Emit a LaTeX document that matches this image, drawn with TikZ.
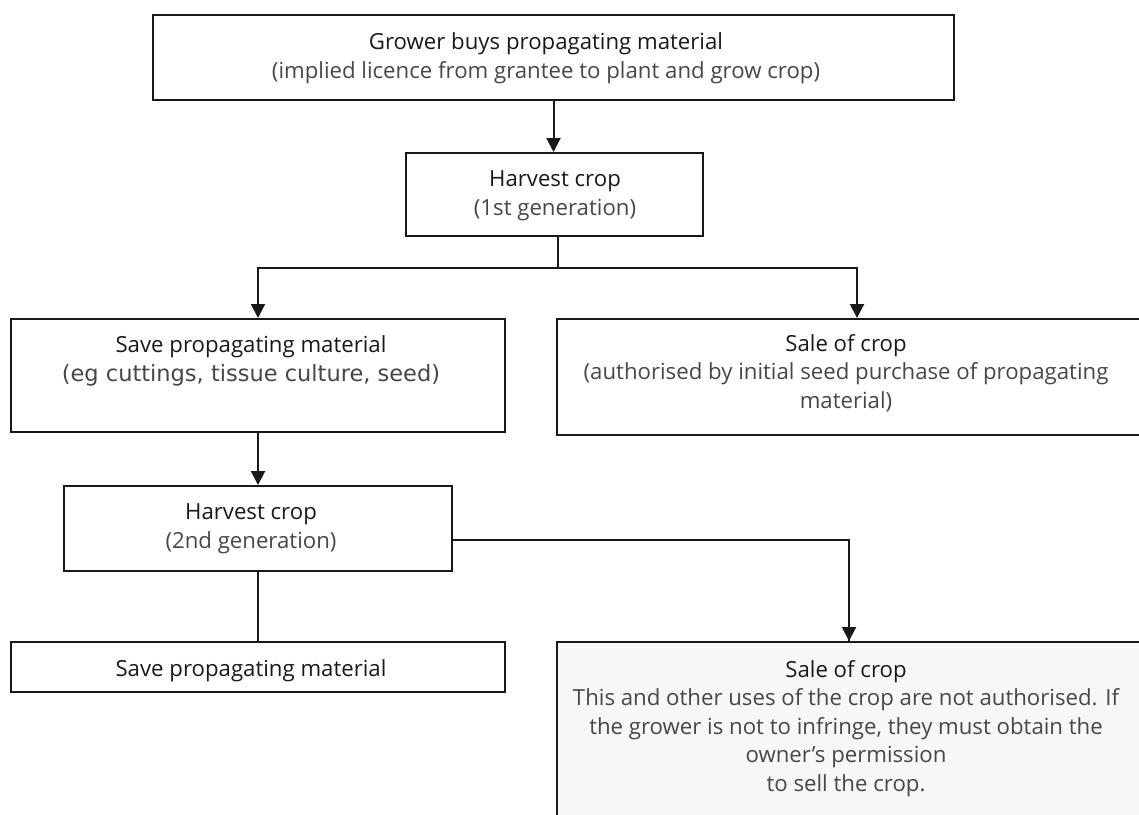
\documentclass[tikz,border=0pt]{standalone}
\usepackage{fontspec}
\setmainfont{Open Sans}
\newfontfamily\egfont{DejaVu Sans}
\usetikzlibrary{arrows.meta}
\tikzset{>={Triangle[length=14pt,width=14pt]}}

\begin{document}
\begin{tikzpicture}[x=1pt,y=-1pt,
    box/.style={draw=black!90, line width=2pt, inner sep=0pt},
    txt/.style={align=center, inner sep=0pt, anchor=base,
        font=\fontsize{22.2}{28.6}\selectfont, text=black!72},
    link/.style={line width=2pt, black!90}]

    \useasboundingbox (0,0) rectangle (1139,814);
    \clip (0,0) rectangle (1139,814);

    % boxes
    \node[box, minimum width=801pt, minimum height=85pt] (grower) at (553.5,57.5) {};
    \node[box, minimum width=297pt, minimum height=83pt] (harvestA) at (554.5,194.5) {};
    \node[box, minimum width=494pt, minimum height=113pt] (saveA) at (258,375.5) {};
    \node[box, minimum width=584pt, minimum height=116pt] (saleA) at (849,377) {};
    \node[box, minimum width=388pt, minimum height=85pt] (harvestB) at (258,528.5) {};
    \node[box, minimum width=494pt, minimum height=50pt] (saveB) at (258,667) {};
    \node[box, fill=black!3, minimum width=584pt, minimum height=200pt] (saleB) at (849,742) {};

    % texts (anchored on the baseline of their last line)
    \node[txt] (growerText) at (546,78)
        {\textcolor{black!90}{Grower buys propagating material}\\
         (implied licence from grantee to plant and grow crop)};
    \node[txt] (harvestAText) at (555,215)
        {\textcolor{black!90}{Harvest crop}\\(1st generation)};
    \node[txt] (saveAText) at (251,381)
        {\textcolor{black!90}{Save propagating material}\\
         {\egfont\fontsize{22.5}{28.6}\selectfont (eg cuttings, tissue culture, seed)}};
    \node[txt] (saleAText) at (846,408.5)
        {\textcolor{black!90}{Sale of crop}\\
         (authorised by initial seed purchase of propagating\\material)};
    \node[txt] (harvestBText) at (251,548)
        {\textcolor{black!90}{Harvest crop}\\(2nd generation)};
    \node[txt] (saveBText) at (251,676.5)
        {\textcolor{black!90}{Save propagating material}};
    \node[txt] (saleBText) at (846,791.5)
        {\textcolor{black!90}{Sale of crop}\\
         This and other uses of the crop are not authorised. If\\
         the grower is not to infringe, they must obtain the\\
         owner’s permission\\
         to sell the crop.};

    % connectors
    \coordinate (forkA) at (558,268);
    \draw[link,->] (grower.south) -- (grower.south |- harvestA.north);
    \draw[link] ([xshift=3.5pt]harvestA.south) -- (forkA);
    \draw[link,->] (forkA) -| (saveA.north);
    \draw[link,->] (forkA) -| ([xshift=8pt]saleA.north);
    \draw[link,->] (saveA.south) -- (harvestB.north);
    \draw[link, line width=1.4pt] (harvestB.south) -- (saveB.north);
    \draw[link, line width=1.6pt] ([yshift=-11.5pt]harvestB.east) -| (saleB.north);
    \draw[link,->] (saleB.north |- 0,545) -- (saleB.north);
\end{tikzpicture}
\end{document}
